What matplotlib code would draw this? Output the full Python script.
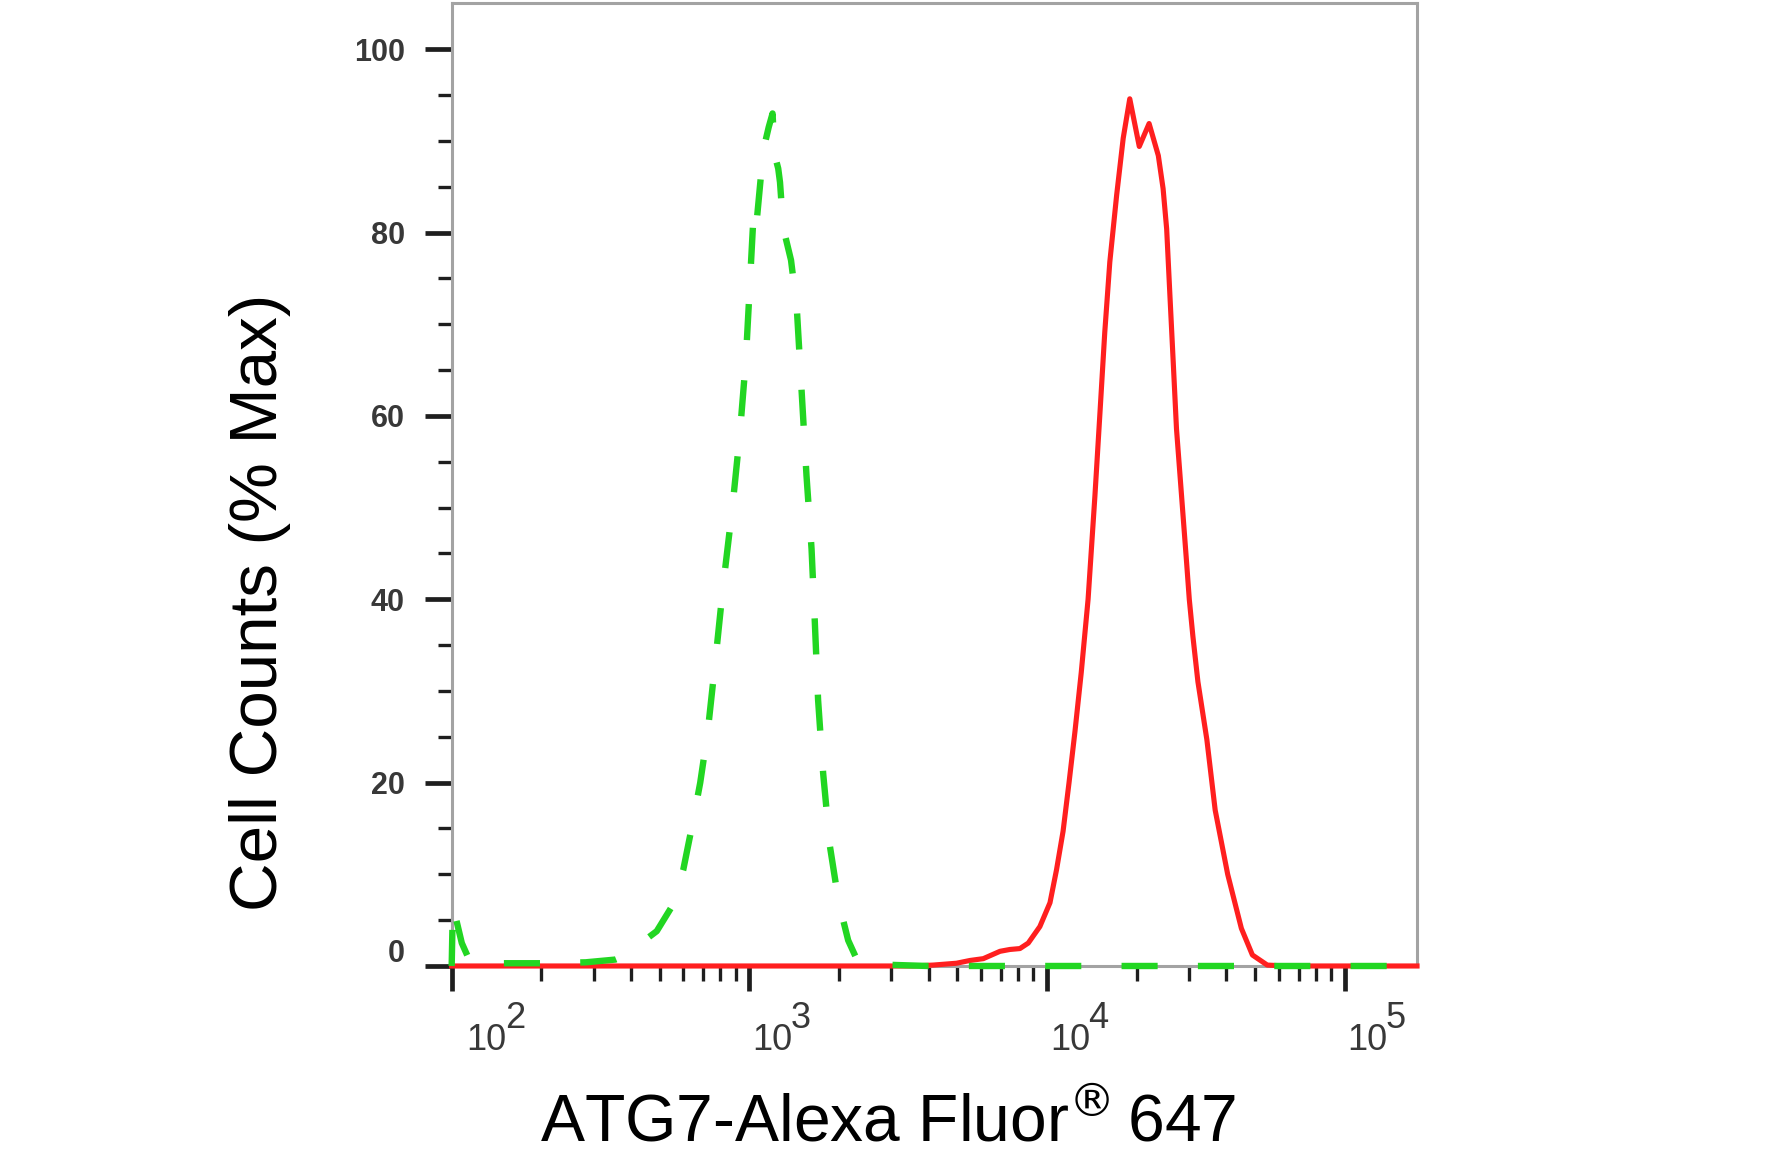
"""
Flow cytometry histogram: ATG7-Alexa Fluor 647 staining vs isotype control.
"""

import numpy as np
import matplotlib
matplotlib.use("Agg")
import matplotlib.pyplot as plt
from matplotlib import font_manager as fm
from matplotlib.ticker import NullFormatter
from matplotlib.transforms import ScaledTranslation


# isotype control (green, dashed): log10 intensity / % of max
ISO_LOG = [2.000, 2.004, 2.034, 2.060, 2.150, 2.300, 2.450, 2.550, 2.588, 2.640,
           2.689, 2.740, 2.778, 2.809, 2.835, 2.860, 2.885, 2.912, 2.943, 2.968,
           2.988, 3.002, 3.015, 3.024, 3.047, 3.065, 3.078, 3.085, 3.097, 3.103,
           3.114, 3.140, 3.159, 3.176, 3.192, 3.209, 3.220, 3.231, 3.248, 3.271,
           3.300, 3.332, 3.360, 3.400, 3.600, 4.200, 4.800, 5.243]
ISO_PCT = [0.0, 6.6, 2.5, 0.6, 0.3, 0.3, 0.4, 0.7, 1.2, 2.6,
           3.8, 6.5, 10.5, 15.5, 20.0, 25.5, 33.0, 41.5, 50.0, 58.0,
           66.0, 74.5, 82.5, 81.0, 89.0, 91.5, 93.0, 88.5, 87.0, 85.5,
           80.5, 77.0, 72.0, 62.5, 53.5, 45.5, 37.5, 29.0, 21.0, 13.0,
           7.0, 2.8, 0.8, 0.2, 0.0, 0.0, 0.0, 0.0]

# ATG7 stained sample (red, solid)
ATG7_LOG = [2.000, 3.550, 3.618, 3.696, 3.741, 3.786, 3.842, 3.875, 3.909, 3.937,
            3.976, 4.010, 4.032, 4.054, 4.074, 4.094, 4.115, 4.138, 4.161, 4.178,
            4.194, 4.211, 4.234, 4.256, 4.278, 4.310, 4.343, 4.374, 4.390, 4.402,
            4.413, 4.424, 4.435, 4.452, 4.469, 4.478, 4.490, 4.507, 4.537, 4.565,
            4.607, 4.653, 4.690, 4.740, 4.800, 5.243]
ATG7_PCT = [0.0, 0.0, 0.1, 0.3, 0.6, 0.8, 1.6, 1.8, 1.9, 2.5,
            4.3, 6.9, 10.5, 14.7, 20.0, 25.6, 32.0, 40.0, 51.3, 60.4,
            69.1, 76.8, 84.1, 90.3, 94.6, 89.4, 91.9, 88.4, 84.8, 80.4,
            73.1, 65.9, 58.6, 51.3, 44.0, 40.0, 36.0, 31.0, 24.7, 17.0,
            10.0, 4.1, 1.2, 0.1, 0.0, 0.0]

X_MAJOR = [1e2, 1e3, 1e4, 1e5]
X_MAJOR_LABELS = ["10", "10", "10", "10"]
X_EXPONENTS = ["2", "3", "4", "5"]
Y_MAJOR = [0, 20, 40, 60, 80, 100]
Y_MAJOR_LABELS = ["0", "20", "40", "60", "80", "100"]

GREEN = "#22d622"
RED = "#ff1f1f"
SPINE = "#a3a3a3"
TICK = "#1e1e1e"
LABEL_GRAY = "#383838"


def _has_font(name):
    try:
        fm.findfont(fm.FontProperties(family=name), fallback_to_default=False)
        return True
    except ValueError:
        return False


# the reference uses a condensed face; fall back to a smaller regular one
if _has_font("Liberation Sans Narrow"):
    narrow, xt_size, yt_size, digit_w = "Liberation Sans Narrow", 27, 25, 0.456
else:
    narrow, xt_size, yt_size, digit_w = "Liberation Sans", 26, 22, 0.556

plt.rcParams["mathtext.fontset"] = "custom"
plt.rcParams["mathtext.rm"] = "DejaVu Sans"

fig = plt.figure(figsize=(17.86, 11.53), dpi=100)
ax = fig.add_axes([0.2529, 0.1622, 0.5405, 0.8348])

ax.plot(np.power(10, ATG7_LOG), ATG7_PCT, color=RED, lw=3.7,
        solid_joinstyle="round", zorder=3, clip_on=False)
ax.plot(np.power(10, ISO_LOG), ISO_PCT, color=GREEN, lw=4.6,
        dashes=(5.65, 6.3), dash_capstyle="butt", zorder=4, clip_on=False)

ax.set_xscale("log")
ax.set_xlim(100, 1.75e5)
ax.set_ylim(0, 105)

for s in ax.spines.values():
    s.set_color(SPINE)
    s.set_linewidth(2.2)

# x axis: decades with labels pushed right of the tick, FlowJo style
ax.tick_params(axis="x", which="major", direction="out", length=18, width=3.4,
               color=TICK, pad=42.5, labelsize=xt_size, labelcolor=LABEL_GRAY)
ax.tick_params(axis="x", which="minor", direction="out", length=11, width=2.4, color=TICK)
x_minor = [m * d for d in (1e2, 1e3, 1e4) for m in range(2, 10)]
ax.set_xticks(X_MAJOR, labels=X_MAJOR_LABELS)
ax.set_xticks(x_minor, minor=True)
ax.xaxis.set_minor_formatter(NullFormatter())

x_shift_px = [15, 3, 3, 3]
for lab, dx in zip(ax.get_xticklabels(), x_shift_px):
    lab.set_ha("left")
    lab.set_va("baseline")
    lab.set_fontfamily(narrow)
    lab.set_transform(lab.get_transform() + ScaledTranslation(dx / 100, 0, fig.dpi_scale_trans))

ten_w = 2 * digit_w * xt_size * 100 / 72
for xv, e, dx in zip(X_MAJOR, X_EXPONENTS, x_shift_px):
    ax.annotate(e, xy=(xv, 0), xycoords=("data", "axes fraction"),
                xytext=(dx + ten_w - 2, -62), textcoords="offset pixels",
                ha="left", va="baseline", fontsize=xt_size, color=LABEL_GRAY,
                family=narrow, annotation_clip=False)

# y axis
ax.tick_params(axis="y", which="major", direction="out", length=19.4, width=3.4,
               color=TICK, pad=14.4, labelsize=yt_size, labelcolor=LABEL_GRAY)
ax.tick_params(axis="y", which="minor", direction="out", length=10, width=2.4, color=TICK)
ax.set_yticks(Y_MAJOR, labels=Y_MAJOR_LABELS)
ax.set_yticks([v for v in range(5, 100, 5) if v % 20], minor=True)
for lab in ax.get_yticklabels():
    lab.set_fontweight("bold")
    lab.set_fontfamily(narrow)
ax.get_yticklabels()[0].set_transform(
    ax.get_yticklabels()[0].get_transform() + ScaledTranslation(0, 0.15, fig.dpi_scale_trans))

ax.set_ylabel("Cell Counts (% Max)", fontsize=48.5, family="Liberation Sans", color="black")
ax.yaxis.label.set(rotation_mode="anchor", va="baseline", ha="center")
ax.yaxis.set_label_coords(-0.1813, 0.3776)

ax.set_xlabel("ATG7-Alexa Fluor$^{\\mathrm{®}}\\,$647", fontsize=47.5,
              family="Liberation Sans", color="black")
ax.xaxis.label.set(va="baseline", ha="center")
ax.xaxis.set_label_coords(0.4518, -0.1828)

fig.savefig("out.png", dpi=100, facecolor="white")
plt.close(fig)
